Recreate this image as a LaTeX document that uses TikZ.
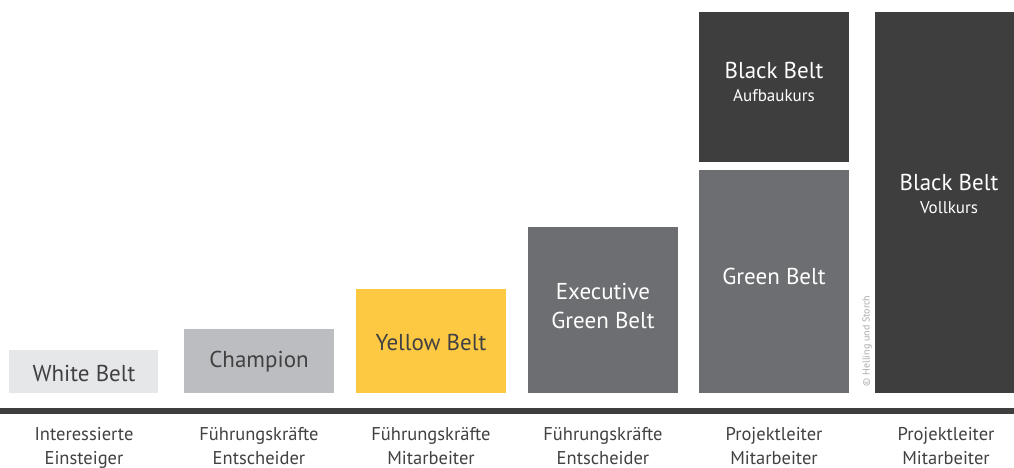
\documentclass[tikz,border=0pt]{standalone}
\usepackage{fontspec}
\setmainfont{PT Sans}
\definecolor{cWhite}{HTML}{E6E7E8}
\definecolor{cChamp}{HTML}{BCBDC0}
\definecolor{cYellow}{HTML}{FDC942}
\definecolor{cGreen}{HTML}{6D6E71}
\definecolor{cBlack}{HTML}{3E3E3E}
\definecolor{cText}{HTML}{414042}
\definecolor{cCopy}{HTML}{A7A9AC}
\tikzset{
  big/.style={font=\fontsize{23}{29}\selectfont},
  small/.style={font=\fontsize{17}{20}\selectfont},
  lab/.style={font=\fontsize{18.5}{24}\selectfont, text=cText, align=center, anchor=north},
}
\begin{document}
\begin{tikzpicture}[x=1pt,y=-1pt]
\useasboundingbox (0,0) rectangle (1014,468);
% boxes
\fill[cWhite] (9,350) rectangle (158,393);
\fill[cChamp] (184,329) rectangle (334,393);
\fill[cYellow] (356,289) rectangle (506,393);
\fill[cGreen] (528,227) rectangle (678,393);
\fill[cGreen] (699,170) rectangle (849,393);
\fill[cBlack] (699,12) rectangle (849,162);
\fill[cBlack] (875,12) rectangle (1014,393);
% baseline
\fill[cBlack] (0,408) rectangle (1014,414);
% box labels
\node[big, text=cText] (w) at (84,373) {White Belt};
\node[big, text=cText] (c) at (259,362) {Champion};
\node[big, text=cText] (y) at (431,342) {Yellow Belt};
\node[big, text=white, align=center] (e) at (603,305.5) {Executive\\Green Belt};
\node[big, text=white] (g) at (774,276) {Green Belt};
\node[big, text=white] (b1) at (774,70) {Black Belt};
\node[small, text=white] (b1s) at (774,96) {Aufbaukurs};
\node[big, text=white] (b2) at (949,182) {Black Belt};
\node[small, text=white] (b2s) at (949,208) {Vollkurs};
% copyright
\node[rotate=90, text=cCopy, font=\fontsize{10}{12}\selectfont] (cp) at (867,341) {© Helling und Storch};
% bottom labels
\node[lab] (l1) at (84,424) {Interessierte\\Einsteiger};
\node[lab] (l2) at (259,424) {Führungskräfte\\Entscheider};
\node[lab] (l3) at (431,424) {Führungskräfte\\Mitarbeiter};
\node[lab] (l4) at (603,424) {Führungskräfte\\Entscheider};
\node[lab] (l5) at (774,424) {Projektleiter\\Mitarbeiter};
\node[lab] (l6) at (946,424) {Projektleiter\\Mitarbeiter};
\end{tikzpicture}
\end{document}
